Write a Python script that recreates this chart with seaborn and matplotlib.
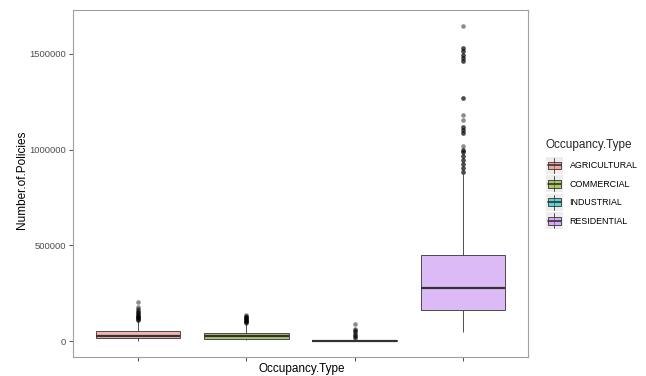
import numpy as np
import pandas as pd
import matplotlib
matplotlib.use("Agg")
import matplotlib.pyplot as plt
import seaborn as sns
from matplotlib.legend_handler import HandlerBase
from matplotlib.patches import Rectangle, Patch
from matplotlib.lines import Line2D

# ---- data ----
categories = ["AGRICULTURAL", "COMMERCIAL", "INDUSTRIAL", "RESIDENTIAL"]
# five-number summaries: lower whisker, Q1, median, Q3, upper whisker
whisker_low = [1500, 6800, 0, 46875]
q1_vals = [15600, 14000, 1000, 161458]
median_vals = [28600, 28600, 2500, 276042]
q3_vals = [52000, 45300, 5000, 447917]
whisker_high = [104000, 90000, 10000, 870000]
outliers_agri = [110000, 113000, 116000, 119000, 122000, 125000, 128000, 131000,
                 134000, 137000, 140000, 145000, 150000, 155000, 162000, 170000,
                 177000, 205000]
outliers_comm = [95000, 98000, 101000, 104000, 107000, 110000, 113000, 116000,
                 119000, 122000, 125000, 128000, 131000, 135000]
outliers_ind = [15000, 20000, 25000, 30000, 36000, 47000, 52000, 57000, 62000, 88500]
outliers_res = [885000, 885000, 905000, 905000, 925000, 925000, 945000, 945000,
                965000, 965000, 985000, 985000, 1000000, 1000000, 1017000,
                1087000, 1087000, 1102000, 1102000, 1116000, 1116000,
                1153000, 1182000, 1267000, 1267000,
                1460000, 1460000, 1478000, 1478000, 1495000, 1495000,
                1514000, 1514000, 1531000, 1531000, 1645833]
outliers = [outliers_agri, outliers_comm, outliers_ind, outliers_res]
base_colors = ["#F8766D", "#7CAE00", "#00BFC4", "#C77CFF"]
y_ticks = [0, 500000, 1000000, 1500000]
y_tick_labels = ["0", "500000", "1000000", "1500000"]


def build_sample(lo, q1, med, q3, hi, outs):
    # raw sample whose quartiles / whiskers / outliers reproduce the summary
    m = len(outs)
    k = m + 1
    vals = [lo] + [q1] * k + [med] * k + [q3] * k + [hi] * (k - m) + sorted(outs)
    return vals


rows = []
for i, c in enumerate(categories):
    for v in build_sample(whisker_low[i], q1_vals[i], median_vals[i], q3_vals[i],
                          whisker_high[i], outliers[i]):
        rows.append((c, v))
df = pd.DataFrame(rows, columns=["Occupancy.Type", "Number.of.Policies"])


def blend(hexc, alpha, bg=(1, 1, 1)):
    r, g, b = matplotlib.colors.to_rgb(hexc)
    return tuple(alpha * x + (1 - alpha) * y for x, y in zip((r, g, b), bg))


fill_colors = [blend(c, 0.6) for c in base_colors]

sns.set_style("white")
plt.rcParams["font.family"] = ["Liberation Sans", "DejaVu Sans"]

fig = plt.figure(figsize=(6.46, 3.76), dpi=100)
ax = fig.add_axes([73 / 646, 1 - 357 / 376, 455 / 646, 347 / 376])

sns.boxplot(data=df, x="Occupancy.Type", y="Number.of.Policies", hue="Occupancy.Type",
            order=categories, hue_order=categories,
            palette=dict(zip(categories, fill_colors)), legend=False,
            width=0.78, linecolor="#333333", linewidth=0.6, whis=1.5,
            showcaps=False,
            medianprops=dict(linewidth=1.6, color="#333333"),
            flierprops=dict(marker="o", markersize=3.3, markerfacecolor="black",
                            markeredgecolor="none", alpha=0.45),
            ax=ax)

ax.set_xlim(-0.6, 3.6)
ax.set_ylim(-82292, 1728125)
ax.set_yticks(y_ticks)
ax.set_yticklabels(y_tick_labels)
ax.set_xticks(range(len(categories)))
ax.set_xticklabels([])
ax.tick_params(axis="both", which="both", direction="out", length=3, width=0.6,
               color="#333333", labelsize=6.8, labelcolor="#4D4D4D", pad=2,
               left=True, bottom=True)
for s in ax.spines.values():
    s.set_visible(True)
    s.set_color("#A0A0A0")
    s.set_linewidth(0.8)
ax.set_xlabel("")
ax.set_ylabel("")
ax.grid(False)

fig.text(301.5 / 646, 1 - 369 / 376, "Occupancy.Type", ha="center", va="center",
         fontsize=8.5, color="black")
fig.text(22 / 646, 1 - 180 / 376, "Number.of.Policies", ha="center", va="center",
         rotation=90, fontsize=8.5, color="black")


class BoxKey(HandlerBase):
    def create_artists(self, legend, orig_handle, xdescent, ydescent, width,
                       height, fontsize, trans):
        fc = orig_handle.get_facecolor()
        x0, y0 = -xdescent, -ydescent
        bg = Rectangle((x0, y0), width, height, facecolor="#EDEDED",
                       edgecolor="none", transform=trans)
        cx = x0 + width / 2
        cy = y0 + height / 2
        wh = Line2D([cx, cx], [y0 + height * 0.06, y0 + height * 0.94],
                    color="#333333", lw=0.6, transform=trans)
        bx = Rectangle((x0 + width * 0.1, y0 + height * 0.27), width * 0.8,
                       height * 0.46, facecolor=fc, edgecolor="#333333", lw=0.6,
                       transform=trans)
        md = Line2D([x0 + width * 0.1, x0 + width * 0.9], [cy, cy],
                    color="#333333", lw=1.2, transform=trans)
        return [bg, wh, bx, md]


handles = [Patch(facecolor=matplotlib.colors.to_rgba(c, 0.6)) for c in base_colors]
leg = fig.legend(handles, categories, title="Occupancy.Type",
                 handler_map={Patch: BoxKey()},
                 loc="upper left", bbox_to_anchor=(546 / 646, 1 - 139 / 376),
                 frameon=False, fontsize=6.4, title_fontsize=8.5,
                 handlelength=1.9, handleheight=2.56, labelspacing=0.17,
                 handletextpad=0.75, borderpad=0, borderaxespad=0,
                 alignment="left")
leg._legend_box.sep = 0.17 * 6.4 + 3.2
for t in leg.get_texts():
    t.set_color("black")

fig.savefig("out.png", dpi=100)
